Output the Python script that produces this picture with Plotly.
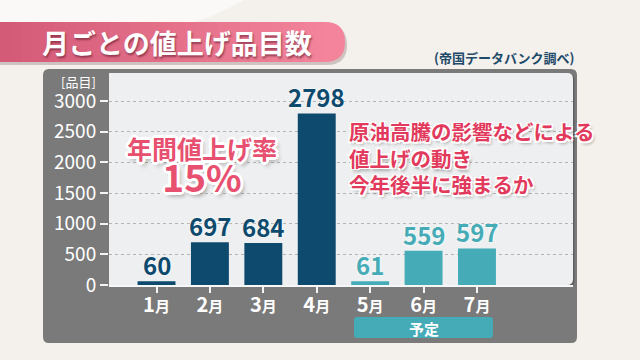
import plotly.graph_objects as go

# ---------------- data ----------------
months = ["1月", "2月", "3月", "4月", "5月", "6月", "7月"]
items = [60, 697, 684, 2798, 61, 559, 597]
is_planned = [False, False, False, False, True, True, True]
y_ticks = [0, 500, 1000, 1500, 2000, 2500, 3000]

title_text = "月ごとの値上げ品目数"
source_text = "(帝国データバンク調べ)"
unit_text = "[品目]"
planned_text = "予定"
rate_label = "年間値上げ率"
rate_value = "15%"
note_lines = ["原油高騰の影響などによる", "値上げの動き", "今年後半に強まるか"]

# ---------------- styling ----------------
FONT = "Noto Sans CJK JP"
NAVY = "#0e4a6e"
TEAL = "#45acb7"
PINK = "#e8506f"
RED = "#e23a5c"
W, H = 640, 360
L, R, T, B = 109, 573, 73, 285  # plot area in pixels


def px(x):
    return (x - L) / (R - L)


def py(y):
    return (B - y) / (B - T)


def rrect(x0, y0, x1, y1, r, tl=True, tr=True, br=True, bl=True):
    def p(x, y):
        return f"{px(x):.5f},{py(y):.5f}"
    rtl, rtr, rbr, rbl = (r if c else 0 for c in (tl, tr, br, bl))
    s = f"M {p(x0 + rtl, y0)} L {p(x1 - rtr, y0)} "
    s += f"Q {p(x1, y0)} {p(x1, y0 + rtr)} L {p(x1, y1 - rbr)} "
    s += f"Q {p(x1, y1)} {p(x1 - rbr, y1)} L {p(x0 + rbl, y1)} "
    s += f"Q {p(x0, y1)} {p(x0, y1 - rbl)} L {p(x0, y0 + rtl)} "
    s += f"Q {p(x0, y0)} {p(x0 + rtl, y0)} Z"
    return s


def lerp_color(c0, c1, t):
    a = [int(c0[i:i + 2], 16) for i in (1, 3, 5)]
    b = [int(c1[i:i + 2], 16) for i in (1, 3, 5)]
    return "#" + "".join(f"{round(a[k] + (b[k] - a[k]) * t):02x}" for k in range(3))


bar_colors = [TEAL if p else NAVY for p in is_planned]

fig = go.Figure()
fig.add_trace(go.Bar(
    x=months, y=items, marker=dict(color=bar_colors, line=dict(width=0)),
    width=0.71, hoverinfo="skip",
))

shapes = []
# soft background light
shapes.append(dict(type="circle", xref="paper", yref="paper", layer="below",
                   x0=px(-140), x1=px(300), y0=py(-200), y1=py(40),
                   fillcolor="rgba(255,255,255,0.6)", line=dict(width=0)))
# banner shadow
shapes.append(dict(type="path", xref="paper", yref="paper", layer="below",
                   path=rrect(-10, 25, 347, 65, 20, tl=False, bl=False),
                   fillcolor="rgba(90,60,60,0.25)", line=dict(width=0)))
# banner
c_left, c_right = "#d35a77", "#f3849b"
shapes.append(dict(type="path", xref="paper", yref="paper", layer="below",
                   path=rrect(-10, 22, 345, 62, 20, tl=False, bl=False),
                   fillcolor=c_right, line=dict(width=0)))
N = 30
x_end = 326
for i in range(N):
    xa = x_end * i / N
    xb = x_end * (i + 1) / N + 0.6
    shapes.append(dict(type="rect", xref="paper", yref="paper", layer="below",
                       x0=px(xa), x1=px(min(xb, x_end)), y0=py(62), y1=py(22),
                       fillcolor=lerp_color(c_left, c_right, (i + 0.5) / N),
                       line=dict(width=0)))
# grey panel
shapes.append(dict(type="path", xref="paper", yref="paper", layer="below",
                   path=rrect(43, 69, 577, 343, 6),
                   fillcolor="#7a7a7a", line=dict(width=0)))
# inner panel shadow + inner panel
shapes.append(dict(type="path", xref="paper", yref="paper", layer="below",
                   path=rrect(L, T + 1, R + 1.5, B + 1.5, 6, tl=False, bl=False),
                   fillcolor="#5e5e5e", line=dict(width=0)))
shapes.append(dict(type="path", xref="paper", yref="paper", layer="below",
                   path=rrect(L, T, R, B, 6, tl=False, bl=False),
                   fillcolor="#eeeff0", line=dict(width=0)))
# planned box
shapes.append(dict(type="path", xref="paper", yref="paper", layer="below",
                   path=rrect(354, 317, 493, 338, 3),
                   fillcolor=TEAL, line=dict(width=0)))

annotations = []
# title
annotations.append(dict(text=f"<b>{title_text}</b>", xref="paper", yref="paper",
                        x=px(177), y=py(42), showarrow=False,
                        xanchor="center", yanchor="middle",
                        font=dict(family=FONT, size=27, color="white",
                                  shadow="1px 2px 2px rgba(90,20,40,0.55)")))
# source
annotations.append(dict(text=f"<b>{source_text}</b>", xref="paper", yref="paper",
                        x=px(504), y=py(57), showarrow=False,
                        xanchor="center", yanchor="middle",
                        font=dict(family=FONT, size=13, color="#1e4a6a")))
# unit
annotations.append(dict(text=unit_text, xref="paper", yref="paper",
                        x=px(78), y=py(81), showarrow=False,
                        xanchor="center", yanchor="middle",
                        font=dict(family=FONT, size=13, color="white")))
# planned
annotations.append(dict(text=f"<b>{planned_text}</b>", xref="paper", yref="paper",
                        x=px(424), y=py(328), showarrow=False,
                        xanchor="center", yanchor="middle",
                        font=dict(family=FONT, size=15, color="white")))
# value labels
for m, v, c in zip(months, items, bar_colors):
    annotations.append(dict(text=f"<b>{v}</b>", x=m, y=v, xref="x", yref="y",
                            showarrow=False, xanchor="center", yanchor="bottom",
                            yshift=-3,
                            font=dict(family=FONT, size=24, color=c,
                                      shadow="0 0 3px #ffffff")))
outline = ("-2px -2px 0 #fff, 2px -2px 0 #fff, -2px 2px 0 #fff, 2px 2px 0 #fff, "
           "0 -3px 0 #fff, 0 3px 0 #fff, -3px 0 0 #fff, 3px 0 0 #fff, "
           "3px 4px 4px rgba(0,0,0,0.35)")
annotations.append(dict(
    text=f"<b>{rate_label}</b><br><span style='font-size:37px'><b>{rate_value}</b></span>",
    xref="paper", yref="paper", x=px(202), y=py(128), showarrow=False,
    xanchor="center", yanchor="top", align="center",
    font=dict(family=FONT, size=25, color=PINK, shadow=outline)))
thin_outline = ("-1.5px -1.5px 0 #fff, 1.5px -1.5px 0 #fff, -1.5px 1.5px 0 #fff, "
                "1.5px 1.5px 0 #fff, 2px 3px 3px rgba(0,0,0,0.3)")
annotations.append(dict(
    text="<br>".join(f"<b>{line}</b>" for line in note_lines),
    xref="paper", yref="paper", x=px(347), y=py(157), showarrow=False,
    xanchor="left", yanchor="middle", align="left",
    font=dict(family=FONT, size=20.5, color=RED, shadow=thin_outline)))

y_top = 3000 * (B - T) / (B - 101)
cat_w = 53.4
x_left = -(156.5 - L) / cat_w
x_right = 6 + (R - 477) / cat_w

tick_text = [f"{m[:-1]}<span style='font-size:15px'>{m[-1]}</span>" for m in months]

fig.update_layout(
    width=W, height=H,
    margin=dict(l=L, r=W - R, t=T, b=H - B, pad=0),
    paper_bgcolor="#f4f0ec",
    plot_bgcolor="rgba(0,0,0,0)",
    showlegend=False,
    shapes=shapes,
    annotations=annotations,
    font=dict(family=FONT, color="white"),
    xaxis=dict(
        type="category", range=[x_left, x_right],
        tickvals=months, ticktext=tick_text,
        tickfont=dict(family=FONT, size=20, color="white", weight="bold"),
        ticks="outside", ticklen=6, tickwidth=1.5, tickcolor="#f4f4f4",
        ticklabelstandoff=-5,
        showline=True, linecolor="#f7f7f7", linewidth=1.5,
        showgrid=False, zeroline=False, fixedrange=True,
    ),
    yaxis=dict(
        range=[0, y_top], tickvals=y_ticks,
        tickfont=dict(family=FONT, size=19, color="white"),
        ticks="outside", ticklen=8, tickwidth=1.5, tickcolor="#f4f4f4",
        showgrid=True, gridcolor="#b4b4b4", gridwidth=1, griddash="3px,3px",
        zeroline=False, showline=False, fixedrange=True,
    ),
)

fig.write_html(
    "out.html",
    config=dict(displayModeBar=False),
    post_script="document.body.style.margin='0';document.body.style.overflow='hidden';",
)
